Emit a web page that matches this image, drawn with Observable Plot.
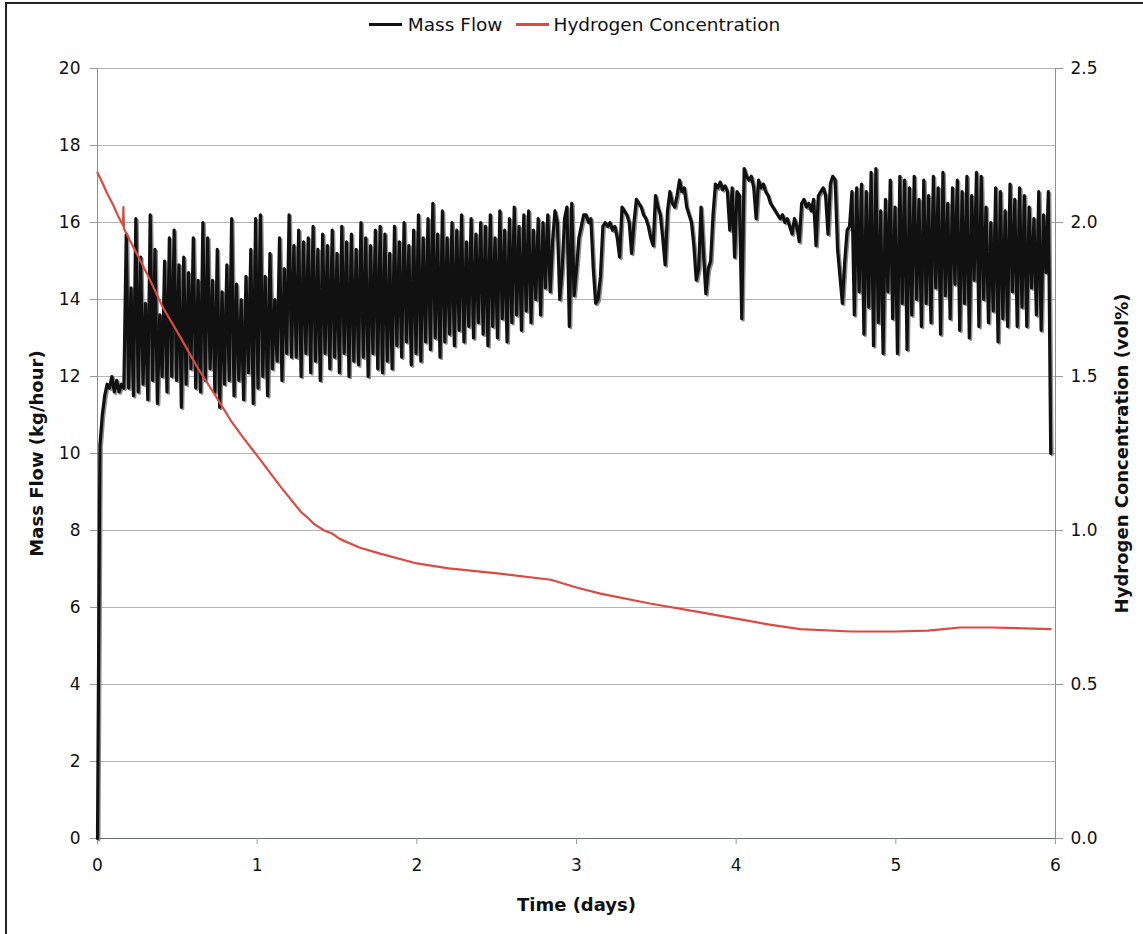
<!DOCTYPE html>
<html><head><meta charset="utf-8">
<script src="https://cdn.jsdelivr.net/npm/d3@7"></script>
<script src="https://cdn.jsdelivr.net/npm/@observablehq/plot@0.6"></script>
<style>
body{margin:0;background:#fff;font-family:"DejaVu Sans",Verdana,sans-serif;}
#wrap{position:relative;width:1143px;height:934px;overflow:hidden;background:#fff;}
#frame{position:absolute;left:5px;top:2px;width:1200px;height:1000px;border-left:2px solid #222;border-top:2px solid #222;pointer-events:none;}
#legend{height:48px;display:flex;justify-content:center;align-items:center;font-size:18.5px;color:#111;padding-left:6px;box-sizing:border-box;}
.sw{display:inline-block;width:33px;height:3px;margin-right:6px;}
.item{display:flex;align-items:center;}
svg{display:block;}
</style>
</head><body>
<div id="wrap">
<div id="legend"></div>
<div id="chart"></div>
<div id="frame"></div>
</div>
<script>
// ---- data ----
const seriesNames = ["Mass Flow", "Hydrogen Concentration"];
const seriesColors = ["#111111", "#dc4a42"];
const xTicks = [0, 1, 2, 3, 4, 5, 6];
const leftTicks = [0, 2, 4, 6, 8, 10, 12, 14, 16, 18, 20];
const rightTicks = [0.0, 0.5, 1.0, 1.5, 2.0, 2.5];
const rightMax = 2.5, leftMax = 20;

// Mass flow (kg/hour) sampled every 0.015 days
const flowStep = 0.015;
const flowValues = [
  0, 10.2, 11.0, 11.5, 11.8, 11.7, 12.0, 11.6, 11.9, 11.6, 11.8, 11.7,
  15.7, 11.7, 14.3, 11.5, 16.1, 11.6, 15.1, 11.8, 13.9, 11.4,
  16.2, 11.9, 15.3, 11.3, 13.6, 12.0, 15.0, 11.6, 15.6, 12.0,
  15.8, 11.9, 14.9, 11.2, 15.1, 11.8, 14.7, 12.2, 15.6, 11.7,
  14.5, 11.6, 16.0, 11.9, 15.6, 12.2, 14.5, 11.6, 15.3, 11.2,
  14.2, 11.8, 14.9, 11.9, 16.1, 11.5, 14.4, 11.9, 14.0, 11.4,
  14.6, 12.1, 15.3, 11.3, 16.1, 11.7, 16.2, 12.0, 14.6, 11.5,
  15.2, 12.2, 14.0, 12.4, 15.6, 11.9, 14.8, 12.6, 16.2, 12.5,
  15.4, 12.5, 15.8, 12.0, 15.5, 12.6, 15.6, 12.1, 15.9, 12.4,
  15.3, 11.9, 15.7, 12.6, 15.4, 12.2, 15.8, 12.5, 15.2, 12.1,
  15.9, 12.6, 15.5, 12.0, 15.7, 12.4, 15.3, 12.3, 16.0, 12.5,
  15.6, 12.0, 15.4, 12.6, 15.8, 12.2, 15.9, 12.1, 15.7, 12.4,
  15.2, 12.2, 15.9, 12.8, 15.5, 12.5, 16.0, 12.9, 15.4, 12.3,
  15.8, 12.6, 16.2, 12.4, 15.6, 12.9, 16.1, 12.7, 16.5, 13.0,
  15.7, 12.5, 16.3, 12.9, 15.6, 13.1, 16.0, 12.8, 15.8, 13.2,
  16.2, 12.9, 15.5, 13.3, 16.1, 13.0, 15.7, 13.4, 16.0, 13.1,
  15.9, 12.8, 16.2, 13.3, 15.6, 13.0, 16.3, 13.5, 15.8, 12.9,
  16.1, 13.4, 16.4, 13.6, 15.9, 13.2, 16.2, 13.7, 16.3, 13.4,
  15.8, 14.0, 16.1, 13.6, 16.0, 14.3, 16.2, 14.2, 15.5, 16.3,
  16.0, 14.0, 14.8, 16.1, 16.4, 13.3, 16.5, 14.1, 14.8, 15.6,
  15.9, 16.2, 16.2, 16.0, 16.1, 14.8, 13.9, 14.0, 14.6, 15.9,
  16.0, 15.9, 16.0, 15.8, 15.9, 15.6, 15.1, 16.4, 16.3, 16.2,
  16.0, 15.2, 16.0, 16.6, 16.5, 16.4, 16.2, 16.1, 15.9, 15.6,
  15.4, 16.7, 16.4, 16.2, 15.6, 14.9, 16.3, 16.8, 16.5, 16.4,
  16.7, 17.1, 16.8, 16.9, 16.4, 16.2, 16.0, 15.4, 14.5, 14.8,
  16.4, 15.2, 14.15, 14.8, 15.0, 16.2, 17.0, 16.9, 17.05, 16.85,
  16.95, 16.8, 15.8, 16.9, 15.1, 16.8, 16.7, 13.5, 17.4, 17.2,
  17.1, 17.2, 16.9, 16.1, 17.1, 16.9, 17.0, 16.8, 16.7, 16.5,
  16.4, 16.3, 16.2, 16.1, 16.2, 16.0, 16.1, 15.9, 15.7, 16.1,
  15.9, 15.5, 16.5, 16.6, 16.4, 16.5, 16.3, 16.6, 15.4, 16.7,
  16.8, 16.9, 16.7, 15.7, 17.0, 17.2, 17.1, 15.3, 14.6, 13.9,
  15.0, 15.8, 15.9, 16.8, 13.6, 16.9, 14.2, 17.0, 13.1, 16.8,
  13.8, 17.3, 12.8, 17.4, 13.4, 16.3, 12.6, 16.6, 14.2, 17.1,
  13.5, 16.4, 12.6, 17.2, 13.9, 17.1, 12.7, 16.9, 13.6, 17.2,
  14.0, 16.6, 13.3, 17.1, 13.9, 16.7, 13.4, 17.2, 14.3, 16.9,
  13.1, 17.3, 14.1, 16.5, 13.5, 16.9, 14.4, 17.1, 13.2, 16.8,
  13.9, 17.2, 13.0, 16.7, 14.5, 17.3, 13.3, 17.2, 14.0, 16.4,
  13.4, 16.0, 13.7, 16.9, 12.9, 16.8, 13.5, 16.3, 13.3, 17.0,
  14.2, 16.6, 13.3, 16.9, 13.8, 16.7, 13.3, 16.4, 14.3, 16.1,
  13.6, 16.8, 13.2, 16.2, 14.7, 16.8, 10.0
];

// Hydrogen concentration (vol%)
const h2Time = [0, 0.03, 0.06, 0.10, 0.13, 0.160, 0.162, 0.166, 0.225, 0.31, 0.41, 0.52, 0.625, 0.73, 0.835, 0.915,
  1.0, 1.15, 1.275, 1.32, 1.36, 1.42, 1.47, 1.52, 1.64, 1.77, 2.0, 2.2, 2.52, 2.84, 3.0, 3.15, 3.46, 3.78,
  4.0, 4.2, 4.4, 4.72, 5.0, 5.2, 5.3, 5.4, 5.6, 5.97];
const h2Values = [2.162, 2.13, 2.095, 2.055, 2.02, 1.99, 2.05, 1.98, 1.92, 1.834, 1.724, 1.627, 1.53, 1.445, 1.357, 1.30,
  1.243, 1.14, 1.06, 1.04, 1.02, 1.0, 0.99, 0.972, 0.945, 0.925, 0.893, 0.877, 0.86, 0.84, 0.815, 0.795, 0.763, 0.734,
  0.714, 0.695, 0.68, 0.672, 0.672, 0.675, 0.68, 0.685, 0.685, 0.68];

// ---- build tables ----
const flow = flowValues.map((v, i) => ({t: i * flowStep, v}));
const h2 = h2Time.map((t, i) => ({t, h: h2Values[i]}));
const k = leftMax / rightMax;

// legend
const lg = document.getElementById("legend");
seriesNames.forEach((n, i) => {
  const it = document.createElement("div");
  it.className = "item";
  if (i > 0) it.style.marginLeft = "14px";
  const sw = document.createElement("span");
  sw.className = "sw"; sw.style.background = seriesColors[i];
  if (i > 0) sw.style.marginRight = "4px";
  const tx = document.createElement("span");
  tx.textContent = n;
  it.appendChild(sw); it.appendChild(tx);
  lg.appendChild(it);
});

const chart = Plot.plot({
  width: 1143, height: 886,
  marginTop: 20, marginBottom: 96, marginLeft: 97, marginRight: 88,
  x: {domain: [0, 6]},
  y: {domain: [0, leftMax]},
  style: {fontFamily: "DejaVu Sans", fontSize: "17px", color: "#111", background: "transparent"},
  marks: [
    Plot.gridY(leftTicks, {stroke: "#b4b4b4", strokeOpacity: 1}),
    Plot.ruleX([0, 6], {stroke: "#8a8f92"}),
    Plot.ruleY([0], {stroke: "#6a6f72"}),
    Plot.axisX(xTicks, {tickSize: 6, tickPadding: 14, stroke: "#999", fill: "#111", label: null, tickFormat: d => String(d)}),
    Plot.axisY(leftTicks, {anchor: "left", tickSize: 7, tickPadding: 10, stroke: "#999", fill: "#111", label: null}),
    Plot.axisY(rightTicks.map(d => d * k), {anchor: "right", tickSize: 7, tickPadding: 8, stroke: "#999", fill: "#111", label: null, tickFormat: d => (d / k).toFixed(1)}),
    Plot.line(flow, {x: "t", y: "v", stroke: "#8c8c8c", strokeWidth: 3, dx: 1.5, dy: 1.5}),
    Plot.line(flow, {x: "t", y: "v", stroke: seriesColors[0], strokeWidth: 3.2}),
    Plot.line(h2, {x: "t", y: d => d.h * k, stroke: seriesColors[1], strokeWidth: 2.2}),
    Plot.text(["Time (days)"], {text: d => d, frameAnchor: "bottom", dy: 67, fontWeight: "bold", fontSize: 18, textAnchor: "middle", lineAnchor: "middle", fill: "#111"}),
    Plot.text(["Mass Flow (kg/hour)"], {text: d => d, frameAnchor: "left", dx: -60, rotate: -90, fontWeight: "bold", fontSize: 18, textAnchor: "middle", lineAnchor: "middle", fill: "#111"}),
    Plot.text(["Hydrogen Concentration (vol%)"], {text: d => d, frameAnchor: "right", dx: 67, rotate: -90, fontWeight: "bold", fontSize: 18, textAnchor: "middle", lineAnchor: "middle", fill: "#111"})
  ]
});
document.getElementById("chart").appendChild(chart);
</script>
</body></html>
